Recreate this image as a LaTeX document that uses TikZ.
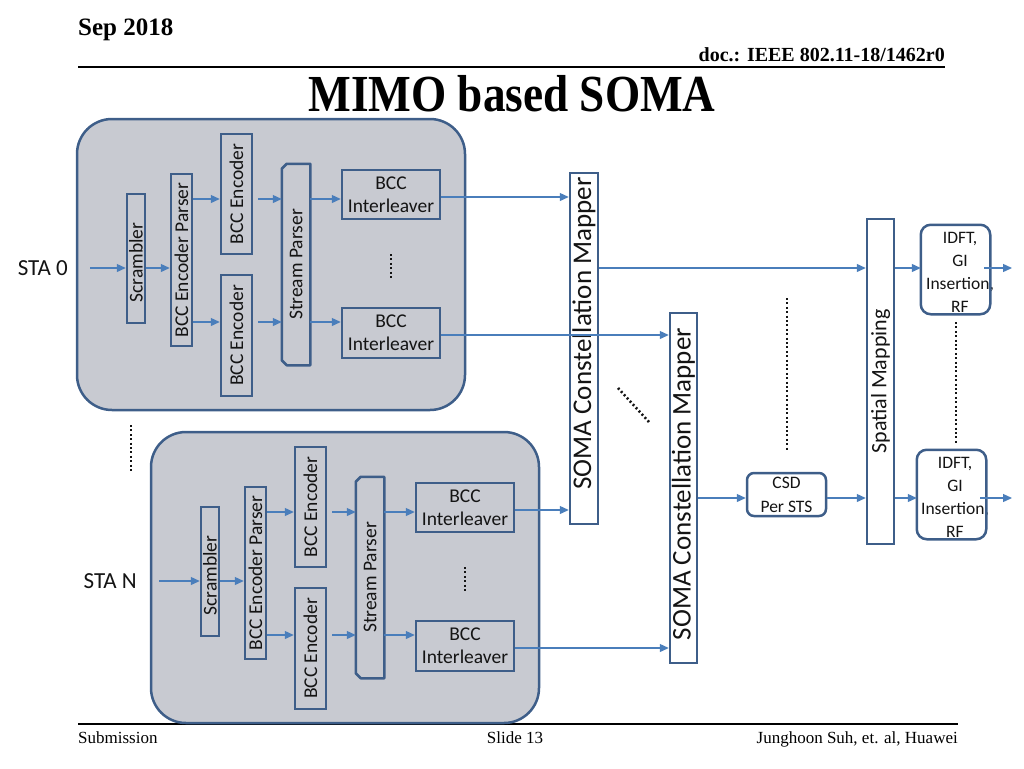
\documentclass[tikz,border=0pt]{standalone}
\usepackage{fontspec}
\setmainfont{Liberation Serif}
\setsansfont{Carlito}
\usetikzlibrary{arrows.meta}
\definecolor{bgray}{RGB}{200,202,209}
\definecolor{bord}{RGB}{62,94,137}
\definecolor{arrc}{RGB}{74,126,187}
\definecolor{txt}{RGB}{20,20,20}
\tikzset{
 bigbox/.style={draw=bord, fill=bgray, line width=2.5pt, rounded corners=35pt, minimum width=388pt, minimum height=291pt, inner sep=0},
 blk/.style={draw=bord, line width=2.5pt, inner sep=0, font=\sffamily\fontsize{19.5}{23}\selectfont, text=txt, align=center},
 wblk/.style={blk, fill=white},
 arr/.style={draw=arrc, line width=1.3pt, -{Triangle[length=9pt,width=8pt]}},
 dotline/.style={draw=txt, line width=2.6pt, dash pattern=on 2pt off 2.4pt},
 lbl/.style={font=\sffamily\fontsize{23}{27}\selectfont, text=txt, inner sep=0},
 ftxt/.style={font=\fontsize{17}{20}\selectfont, text=black, inner sep=0},
 htxt/.style={font=\bfseries\fontsize{25}{30}\selectfont, text=black, inner sep=0},
}
\newcommand\stachain[3]{%
 \node[bigbox] (#1box) at (271,264.5) {};
 \node[blk, minimum width=18pt, minimum height=129pt] (#1scr) at (136,258.5) {\rotatebox{90}{Scrambler\hspace*{8pt}}};
 \node[blk, minimum width=21pt, minimum height=172pt] (#1bep) at (181.5,260) {\rotatebox{90}{BCC Encoder Parser}};
 \node[blk, minimum width=31pt, minimum height=120pt] (#1encA) at (236.5,194) {\rotatebox{90}{BCC Encoder}};
 \node[blk, minimum width=31pt, minimum height=121pt] (#1encB) at (236.5,335.5) {\rotatebox{90}{BCC Encoder}};
 \node[blk, draw=none, minimum width=26pt, minimum height=199pt] (#1sp) at (296,264.5) {\rotatebox{90}{Stream Parser}};
 \draw[bord, line width=2.5pt, line join=round] ([xshift=5pt]#1sp.north west) -- (#1sp.north east) -- (#1sp.south east) -- ([xshift=5pt]#1sp.south west) -- ([yshift=5pt]#1sp.south west) -- ([yshift=-5pt]#1sp.north west) -- cycle;
 \node[blk, minimum width=98pt, minimum height=49pt] (#1ilA) at (391,194.5) {BCC\\Interleaver};
 \node[blk, minimum width=98pt, minimum height=50pt] (#1ilB) at (391,333) {BCC\\Interleaver};
 \draw[dotline] (391,254) -- (391,280);
 \node[lbl, anchor=east] (#1sta) at (#3,268) {#2};
 \draw[arr] ([xshift=22pt]#1sta.east) -- (#1scr.west |- #1sta.east);
 \draw[arr] (#1scr.east |- #1sta.east) -- (#1bep.west |- #1sta.east);
 \draw[arr] (#1bep.east |- 0,199) -- (#1encA.west |- 0,199);
 \draw[arr] (#1bep.east |- 0,322) -- (#1encB.west |- 0,322);
 \draw[arr, shorten <=5pt] (#1encA.east |- 0,199) -- (#1sp.west |- 0,199);
 \draw[arr, shorten <=5pt] (#1encB.east |- 0,322) -- (#1sp.west |- 0,322);
 \draw[arr] (#1sp.east |- 0,199) -- (#1ilA.west |- 0,199);
 \draw[arr] (#1sp.east |- 0,322) -- (#1ilB.west |- 0,322);
}
\begin{document}
\begin{tikzpicture}[x=1pt, y=-1pt]
\useasboundingbox (0,0) rectangle (1024,768);
% header
\node[htxt, anchor=base west] (date) at (78,36) {Sep 2018};
\node[htxt, font=\bfseries\fontsize{20}{24}\selectfont, anchor=base east] (doc) at (945,62) {doc.: IEEE 802.11-18/1462r0};
\draw[black, line width=2pt] (78,67) -- (945,67);
\node[inner sep=0, font=\bfseries\fontsize{52}{60}\selectfont, anchor=base] (title) at (512,111) {\scalebox{0.87}[1]{MIMO based SOMA}};
% footer
\draw[black, line width=1.5pt] (78,724) -- (958,724);
\node[ftxt, anchor=base west] (sub) at (78,743) {Submission};
\node[ftxt, anchor=base] (slide) at (515,743) {Slide 13};
\node[ftxt, anchor=base east] (auth) at (958,743) {Junghoon Suh, et. al, Huawei};

% station chains
\stachain{A}{STA 0}{68}
\begin{scope}[shift={(74,313)}]
\stachain{B}{STA N}{63}
\end{scope}
\draw[dotline] (131,425) -- (131,473);

% mappers
\node[wblk, minimum width=28pt, minimum height=351pt, font=\sffamily\fontsize{27}{30}\selectfont] (mA) at (584,348.5) {\rotatebox{90}{\hspace*{30pt}SOMA Constellation Mapper}};
\node[wblk, minimum width=27pt, minimum height=350pt, font=\sffamily\fontsize{27}{30}\selectfont] (mB) at (683.5,488) {\rotatebox{90}{\hspace*{8pt}SOMA Constellation Mapper}};
\node[wblk, minimum width=27pt, minimum height=325pt, font=\sffamily\fontsize{22}{26}\selectfont] (sm) at (880.5,381.5) {\rotatebox{90}{Spatial Mapping}};
\node[wblk, rounded corners=7pt, minimum width=79pt, minimum height=43pt, font=\sffamily\fontsize{17.5}{24}\selectfont] (csd) at (786.5,494.5) {CSD\\Per STS};

% IDFT boxes
\node[wblk, draw=none, rounded corners=10pt, minimum width=67pt, minimum height=87pt] (idA) at (955.5,269.5) {};
\node[inner sep=0, align=center, text=txt, font=\sffamily\fontsize{17.5}{23}\selectfont] (tA) at (960,272) {IDFT,\\GI\\Insertion,\\RF};
\draw[bord, line width=2.5pt, rounded corners=10pt] (idA.north west) rectangle (idA.south east);
\node[wblk, draw=none, rounded corners=10pt, minimum width=67pt, minimum height=87pt] (idB) at (951.5,494.5) {};
\node[inner sep=0, align=center, text=txt, font=\sffamily\fontsize{17.5}{23}\selectfont] (tB) at (955,497) {IDFT,\\GI\\Insertion,\\RF};
\draw[bord, line width=2.5pt, rounded corners=10pt] (idB.north west) rectangle (idB.south east);
\coordinate (oA) at (1012,268);
\coordinate (oB) at (1012,498);

% connectors to mappers
\draw[arr] (AilA.east |- 0,197) -- (mA.west |- 0,197);
\draw[arr] (AilB.east |- 0,335) -- (mB.west |- 0,335);
\draw[arr] (BilA.east |- 0,510) -- (mA.west |- 0,510);
\draw[arr] (BilB.east |- 0,648) -- (mB.west |- 0,648);
\draw[arr] (mA.east |- oA) -- (sm.west |- oA);
\draw[arr] (mB.east |- oB) -- (csd.west |- oB);
\draw[arr] (csd.east |- oB) -- (sm.west |- oB);
\draw[arr] (sm.east |- oA) -- (idA.west |- oA);
\draw[arr] (sm.east |- oB) -- (idB.west |- oB);
\draw[arr] ([xshift=-6pt]idA.east |- oA) -- (oA);
\draw[arr] ([xshift=-6pt]idB.east |- oB) -- (oB);

% dotted ellipses
\draw[dotline] (787,298) -- (787,450);
\draw[dotline] (956,322) -- (956,443);
\draw[dotline] (618,388) -- (649,422);
\end{tikzpicture}
\end{document}
